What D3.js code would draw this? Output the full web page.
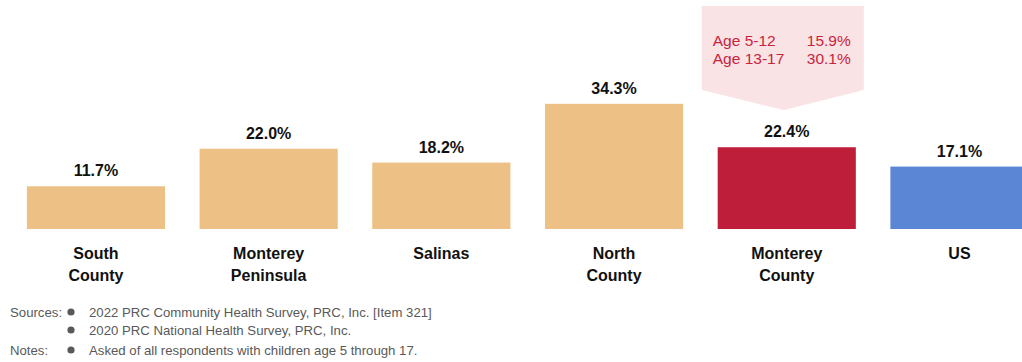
<!DOCTYPE html>
<html>
<head>
<meta charset="utf-8">
<script src="https://cdn.jsdelivr.net/npm/d3@7"></script>
<style>
  html, body { margin: 0; padding: 0; background: #fff; }
  svg { display: block; font-family: "Liberation Sans", Arial, sans-serif; }
</style>
</head>
<body>
<svg id="chart" width="1022" height="362"></svg>
<script>
const categories = [["South", "County"], ["Monterey", "Peninsula"], ["Salinas"], ["North", "County"], ["Monterey", "County"], ["US"]];
const values = [11.7, 22.0, 18.2, 34.3, 22.4, 17.1];
const barColors = ["#edc185", "#edc185", "#edc185", "#edc185", "#be1e3a", "#5b86d6"];
const calloutLabels = ["Age 5-12", "Age 13-17"];
const calloutValues = [15.9, 30.1];
const sourceLines = ["2022 PRC Community Health Survey, PRC, Inc. [Item 321]", "2020 PRC National Health Survey, PRC, Inc."];
const noteLines = ["Asked of all respondents with children age 5 through 17."];

const svg = d3.select("#chart");
const keys = categories.map((c, i) => i);

const x = d3.scaleBand().domain(keys).range([9.6, 1045.8]).paddingInner(0.2).paddingOuter(0.1);
const y = d3.scaleLinear().domain([0, 40]).range([229, 83]);

// callout for Monterey County
const mc = 4;
const cx = x(mc) + x.bandwidth() / 2 - 3;
const cl = cx - 82, cr = cx + 80, ct = 6, cb = 90, tip = 110;
svg.append("path")
  .attr("d", `M${cl},${ct}H${cr}V${cb}L${cx},${tip}L${cl},${cb}Z`)
  .attr("fill", "#fae3e5");
calloutLabels.forEach((lab, i) => {
  const yy = 46 + i * 18;
  svg.append("text").attr("x", cl + 11).attr("y", yy)
    .attr("font-size", 15.5).attr("fill", "#c8243c").text(lab);
  svg.append("text").attr("x", cr - 13).attr("y", yy).attr("text-anchor", "end")
    .attr("font-size", 15.5).attr("fill", "#c8243c").text(d3.format(".1f")(calloutValues[i]) + "%");
});

// bars
svg.selectAll("rect.bar").data(keys).join("rect")
  .attr("class", "bar")
  .attr("x", d => x(d))
  .attr("width", x.bandwidth())
  .attr("y", d => y(values[d]))
  .attr("height", d => y(0) - y(values[d]))
  .attr("fill", d => barColors[d]);

// value labels
svg.selectAll("text.val").data(keys).join("text")
  .attr("class", "val")
  .attr("x", d => x(d) + x.bandwidth() / 2)
  .attr("y", d => y(values[d]) - 10)
  .attr("text-anchor", "middle")
  .attr("font-size", 16).attr("font-weight", "bold").attr("fill", "#111")
  .text(d => d3.format(".1f")(values[d]) + "%");

// category labels
const cat = svg.selectAll("text.cat").data(keys).join("text")
  .attr("class", "cat")
  .attr("text-anchor", "middle")
  .attr("font-size", 16).attr("font-weight", "bold").attr("fill", "#111");
cat.each(function(d) {
  const t = d3.select(this);
  categories[d].forEach((line, j) => {
    t.append("tspan").attr("x", x(d) + x.bandwidth() / 2).attr("y", 259 + j * 22).text(line);
  });
});

// footnotes
const fn = svg.append("g").attr("font-size", 13.2).attr("fill", "#595959");
fn.append("text").attr("x", 10).attr("y", 317).text("Sources:");
fn.append("text").attr("x", 10).attr("y", 355).text("Notes:");
const rows = sourceLines.concat(noteLines);
rows.forEach((line, i) => {
  const yy = [317, 335, 355][i];
  fn.append("circle").attr("cx", 71).attr("cy", yy - 5).attr("r", 3.6).attr("fill", "#595959");
  fn.append("text").attr("x", 89).attr("y", yy).text(line);
});
</script>
</body>
</html>
